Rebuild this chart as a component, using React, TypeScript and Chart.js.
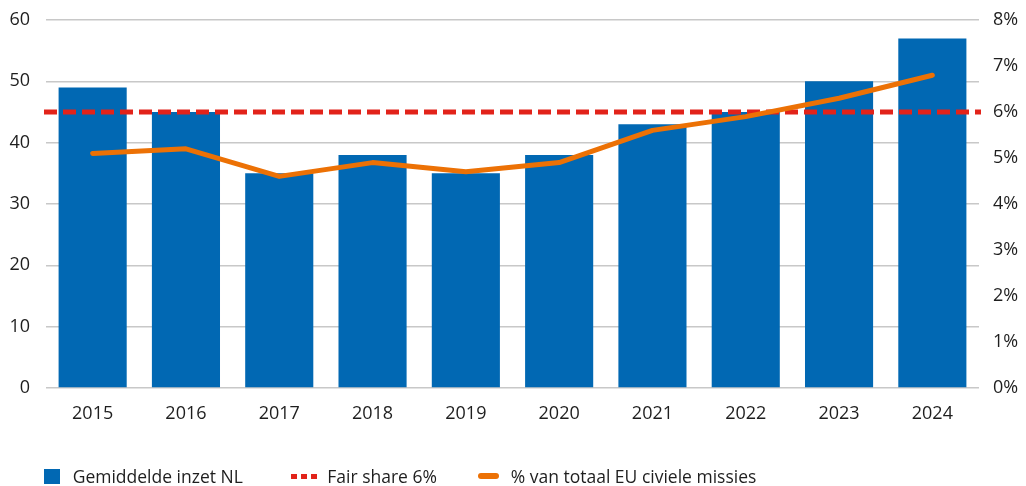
import React, { useEffect, useRef } from "react";
import { Chart, registerables } from "chart.js";

Chart.register(...registerables);

// ---- Data ----
const years = ["2015", "2016", "2017", "2018", "2019", "2020", "2021", "2022", "2023", "2024"];
const inzetNL = [49, 45, 35, 38, 35, 38, 43, 45, 50, 57];
const aandeelEU = [5.1, 5.2, 4.6, 4.9, 4.7, 4.9, 5.6, 5.9, 6.3, 6.8];
const fairShare = 6;
const leftMax = 60;
const leftStep = 10;
const rightMax = 8;
const rightStep = 1;
const seriesLabels = ["Gemiddelde inzet NL", "Fair share 6%", "% van totaal EU civiele missies"];

// ---- Styles ----
const BLUE = "#0168b3";
const RED = "#e2231a";
const ORANGE = "#ec7105";
const GRID = "#c8c8c8";
const TEXT = "#1e1e1e";
const FONT = "'Open Sans', 'Noto Sans', sans-serif";

const fairSharePlugin = {
  id: "fairShareLine",
  beforeDatasetDraw(chart: any, args: any) {
    if (args.index !== 1) return;
    const { ctx, chartArea } = chart;
    const y = chart.scales.y1.getPixelForValue(fairShare);
    ctx.save();
    ctx.beginPath();
    ctx.setLineDash([13, 6]);
    ctx.lineWidth = 5;
    ctx.strokeStyle = RED;
    ctx.moveTo(chartArea.left - 2, y);
    ctx.lineTo(chartArea.right + 2, y);
    ctx.stroke();
    ctx.restore();
  },
};

export default function App() {
  const canvasRef = useRef<HTMLCanvasElement | null>(null);

  useEffect(() => {
    if (!canvasRef.current) return;
    const chart = new Chart(canvasRef.current, {
      type: "bar",
      data: {
        labels: years,
        datasets: [
          {
            type: "bar",
            label: seriesLabels[0],
            data: inzetNL,
            backgroundColor: BLUE,
            yAxisID: "y",
            categoryPercentage: 1,
            barPercentage: 0.73,
            order: 3,
          },
          {
            type: "line",
            label: seriesLabels[2],
            data: aandeelEU,
            borderColor: ORANGE,
            borderWidth: 5,
            borderCapStyle: "round",
            borderJoinStyle: "round",
            pointRadius: 0,
            tension: 0,
            yAxisID: "y1",
            order: 1,
          },
        ] as any,
      },
      options: {
        responsive: false,
        animation: false,
        devicePixelRatio: 1,
        layout: { padding: { top: 20, left: 0, right: 0, bottom: 0 } },
        plugins: {
          legend: { display: false },
          tooltip: { enabled: false },
        },
        scales: {
          x: {
            grid: { display: false },
            border: { display: false },
            ticks: { color: TEXT, font: { family: FONT, size: 18 }, padding: 7 },
            afterFit: (s: any) => {
              s.height = 98;
              s.paddingLeft = 0;
              s.paddingRight = 0;
            },
          },
          y: {
            position: "left",
            min: 0,
            max: leftMax,
            ticks: { stepSize: leftStep, color: TEXT, font: { family: FONT, size: 18 }, padding: 16 },
            grid: { color: GRID, lineWidth: 1.5, drawTicks: false },
            border: { display: false },
            afterFit: (s: any) => {
              s.width = 46;
              s.paddingTop = 0;
              s.paddingBottom = 0;
            },
          },
          y1: {
            position: "right",
            min: 0,
            max: rightMax,
            ticks: {
              stepSize: rightStep,
              color: TEXT,
              font: { family: FONT, size: 18 },
              padding: 14,
              callback: (v: any) => `${v}%`,
            },
            grid: { display: false, drawTicks: false },
            border: { display: false },
            afterFit: (s: any) => {
              s.width = 47;
              s.paddingTop = 0;
              s.paddingBottom = 0;
            },
          },
        },
      } as any,
      plugins: [fairSharePlugin],
    });
    return () => chart.destroy();
  }, []);

  const textStyle: React.CSSProperties = {
    fontFamily: FONT,
    fontSize: "17.5px",
    color: TEXT,
    whiteSpace: "nowrap",
    lineHeight: "20px",
  };
  const itemStyle = (left: number): React.CSSProperties => ({
    position: "absolute",
    left,
    top: 466,
    height: 20,
    display: "flex",
    alignItems: "center",
  });

  return (
    <div style={{ position: "fixed", left: 0, top: 0, width: 1026, height: 486, background: "#fff" }}>
      <canvas ref={canvasRef} width={1026} height={486} style={{ display: "block", width: 1026, height: 486 }} />
      <div style={itemStyle(44)}>
        <span style={{ display: "inline-block", width: 16, height: 15, background: BLUE, marginRight: 12.7 }} />
        <span style={textStyle}>{seriesLabels[0]}</span>
      </div>
      <div style={itemStyle(291)}>
        <span style={{ display: "inline-flex", gap: 4, marginRight: 10.3 }}>
          <span style={{ display: "inline-block", width: 6, height: 5, background: RED }} />
          <span style={{ display: "inline-block", width: 6, height: 5, background: RED }} />
          <span style={{ display: "inline-block", width: 6, height: 5, background: RED }} />
        </span>
        <span style={textStyle}>{seriesLabels[1]}</span>
      </div>
      <div style={itemStyle(478)}>
        <span
          style={{ display: "inline-block", width: 21, height: 5.5, background: ORANGE, borderRadius: 3, marginRight: 11.7 }}
        />
        <span style={textStyle}>{seriesLabels[2]}</span>
      </div>
    </div>
  );
}
